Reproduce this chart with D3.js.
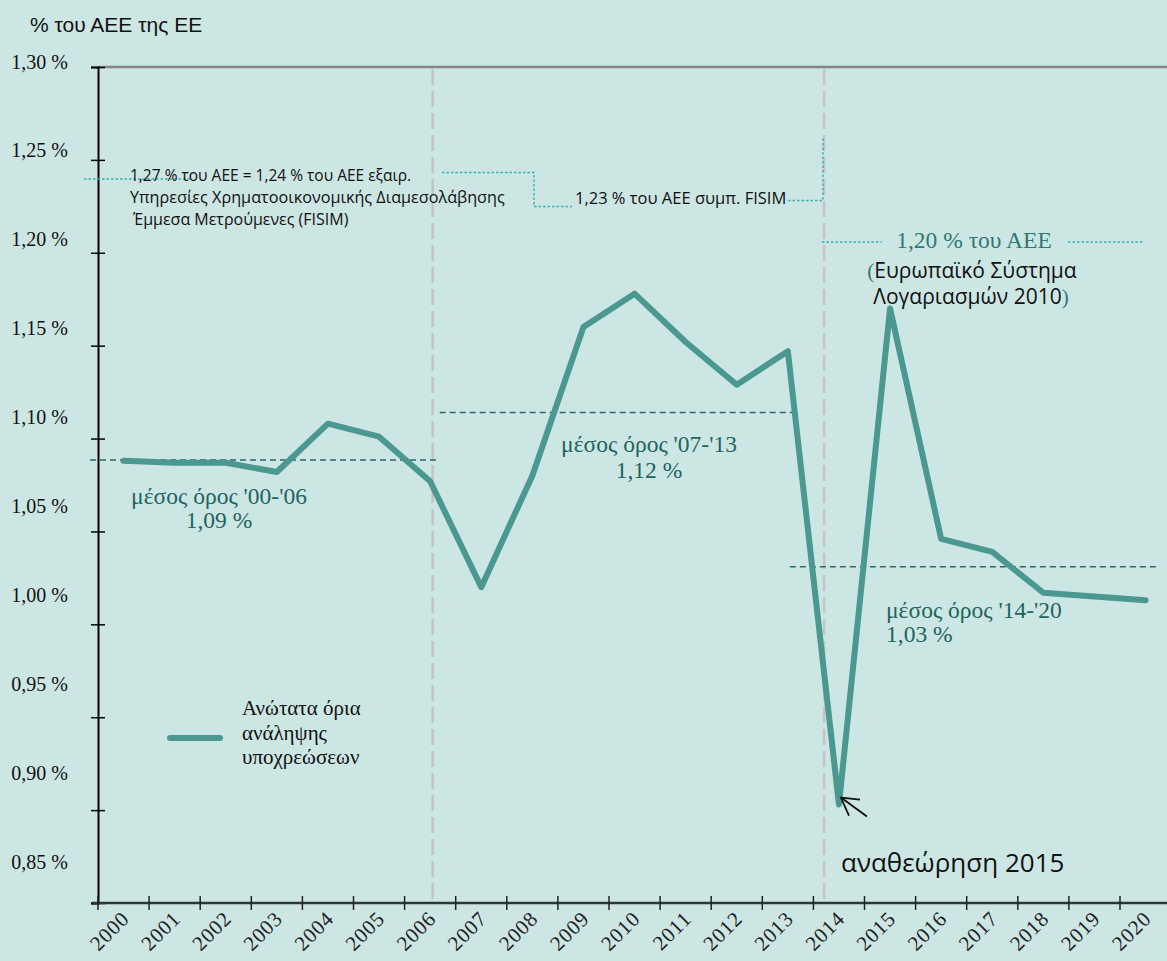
<!DOCTYPE html>
<html><head><meta charset="utf-8">
<script src="https://cdn.jsdelivr.net/npm/d3@7"></script>
<style>
html,body{margin:0;padding:0;background:#cce6e4;}
svg{display:block;}
.serif{font-family:"Liberation Serif","Times New Roman","DejaVu Serif",serif;}
.sans{font-family:"Open Sans","Noto Sans",sans-serif;}
</style></head>
<body>
<script>
const years = ["2000","2001","2002","2003","2004","2005","2006","2007","2008","2009","2010","2011","2012","2013","2014","2015","2016","2017","2018","2019","2020"];
const ceilings = [1.088,1.087,1.087,1.082,1.108,1.101,1.077,1.020,1.080,1.160,1.178,1.152,1.129,1.147,0.903,1.170,1.046,1.039,1.017,1.015,1.013];
const yTicks = [1.30,1.25,1.20,1.15,1.10,1.05,1.00,0.95,0.90,0.85];
const yTickLabels = ["1,30 %","1,25 %","1,20 %","1,15 %","1,10 %","1,05 %","1,00 %","0,95 %","0,90 %","0,85 %"];
const avgPeriods = ["'00-'06","'07-'13","'14-'20"];
const avgValues = [1.0885,1.114,1.031];
const avgLabels = ["1,09 %","1,12 %","1,03 %"];
const avgFrom = ["2000","2007","2014"];
const avgTo = ["2006","2013","2020"];

const W = 1167, H = 961;
const svg = d3.select("body").append("svg").attr("width", W).attr("height", H);
svg.append("rect").attr("width", W).attr("height", H).attr("fill", "#cce6e4");

const x = d3.scaleBand().domain(years).range([98, 98 + 21 * 51.1]).padding(0);
const bw = x.bandwidth();
const cx = d => x(d) + bw / 2;
const y = d3.scaleLinear().domain([0.85, 1.30]).range([903, 67]);
const yLab = d3.scaleLinear().domain([0.85, 1.30]).range([868, 68]);

const teal = "#4b9891";
const dark = "#22655d";
const dot = "#36b1b0";
const serifFam = '"Liberation Serif","Times New Roman","DejaVu Serif",serif';

// top frame line
svg.append("line").attr("x1", 98).attr("x2", W).attr("y1", y(1.30)).attr("y2", y(1.30))
  .attr("stroke", "#858585").attr("stroke-width", 2.5);

// vertical dashed separators
const sepX = [x("2006") + bw * 0.55, x("2014") + bw * 0.21];
svg.selectAll("line.sep").data(sepX).join("line").attr("class", "sep")
  .attr("x1", d => d).attr("x2", d => d).attr("y1", y(1.30) + 2).attr("y2", y(0.85) - 2)
  .attr("stroke", "#c4c4c4").attr("stroke-width", 2.5).attr("stroke-dasharray", "16,6");

// y axis: ticks (no labels)
const yAxis = svg.append("g").attr("transform", "translate(98,0)")
  .call(d3.axisLeft(y).tickValues(yTicks).tickSize(7).tickFormat(""));
yAxis.select(".domain").attr("stroke", "#000").attr("stroke-width", 2);
yAxis.selectAll(".tick line").attr("stroke", "#000").attr("stroke-width", 1.5).attr("x2", 7).attr("x1", -7);

// y tick labels (as placed in the original)
const yLabAxis = svg.append("g").attr("transform", "translate(68,0)")
  .call(d3.axisLeft(yLab).tickValues(yTicks).tickSize(0).tickPadding(0)
    .tickFormat((d, i) => yTickLabels[i]));
yLabAxis.attr("font-family", null).attr("font-size", null);
yLabAxis.select(".domain").remove();
yLabAxis.selectAll("text").style("font-family", serifFam).style("font-size", "20px").attr("fill", "#111")
  .attr("dy", null).attr("dominant-baseline", "alphabetic");

// x axis
const xAxis = svg.append("g").attr("transform", `translate(0,${y(0.85)})`)
  .call(d3.axisBottom(x).tickSize(7).tickFormat(d => d));
xAxis.attr("font-family", null).attr("font-size", null);
xAxis.select(".domain").attr("d", `M92,0H${W}`).attr("stroke", "#333").attr("stroke-width", 2.5);
xAxis.selectAll(".tick").attr("transform", d => `translate(${x(d)},0)`);
xAxis.selectAll(".tick line").attr("y1", -7).attr("y2", 7).attr("stroke", "#222").attr("stroke-width", 1.5);
xAxis.selectAll(".tick text")
  .style("font-family", serifFam).style("font-size", "21px").style("letter-spacing", "0.8px").attr("fill", "#222")
  .attr("text-anchor", "end").attr("dy", null).attr("y", null)
  .attr("transform", `translate(${bw / 2 + 7},17) rotate(-45)`);

// averages
svg.selectAll("line.avg").data(avgValues).join("line").attr("class", "avg")
  .attr("x1", (d, i) => i === 0 ? x(avgFrom[i]) - 8 : i === 1 ? x(avgFrom[i]) - 16 : cx("2013") + 2)
  .attr("x2", (d, i) => i === 0 ? cx(avgTo[i]) + 8 : i === 1 ? cx(avgTo[i]) + 10 : cx(avgTo[i]) + 14)
  .attr("y1", d => y(d)).attr("y2", d => y(d))
  .attr("stroke", "#2b6a62").attr("stroke-width", 1.5).attr("stroke-dasharray", "6,4");

// main line
const line = d3.line().x((d, i) => cx(years[i])).y(d => y(d));
svg.append("path").datum(ceilings).attr("d", line).attr("fill", "none")
  .attr("stroke", teal).attr("stroke-width", 6).attr("stroke-linejoin", "round").attr("stroke-linecap", "round");

// average labels
const avgPos = [
  {x: 219, y1: 504, y2: 528, anchor: "middle"},
  {x: 649, y1: 452, y2: 478, anchor: "middle"},
  {x: 886, y1: 618, y2: 642, anchor: "start"}
];
avgPos.forEach((p, i) => {
  svg.append("text").attr("class", "serif").attr("x", p.x).attr("y", p.y1).attr("text-anchor", p.anchor)
    .style("font-size", "23.5px").attr("fill", dark)
    .text("μέσος όρος " + avgPeriods[i]);
  svg.append("text").attr("class", "serif").attr("x", p.x).attr("y", p.y2).attr("text-anchor", p.anchor)
    .style("font-size", "23.5px").attr("fill", dark)
    .text(avgLabels[i]);
});

// axis title
svg.append("text").attr("x", 30).attr("y", 32).style("font-family", '"Liberation Sans",Arial,sans-serif')
  .style("font-size", "21px").attr("fill", "#111").text("% του ΑΕΕ της ΕΕ");

// FISIM annotation
const dotted = (pts) => svg.append("path").attr("d", d3.line()(pts)).attr("fill", "none")
  .attr("stroke", dot).attr("stroke-width", 1.4).attr("stroke-dasharray", "2.5,2");
dotted([[84, 179], [190, 179]]);
dotted([[442, 172.5], [534, 172.5], [534, 206.5], [572, 206.5]]);
dotted([[788, 200.5], [823, 200.5], [823, 138]]);
const ann = ["1,27 % του ΑΕΕ = 1,24 % του ΑΕΕ εξαιρ.", "Υπηρεσίες Χρηματοοικονομικής Διαμεσολάβησης", "Έμμεσα Μετρούμενες (FISIM)"];
const annX = [130, 130, 133];
const annSize = [15.5, 16.2, 16];
ann.forEach((t, i) => svg.append("text").attr("class", "sans").attr("x", annX[i]).attr("y", 181 + i * 22)
  .style("font-size", annSize[i] + "px").attr("fill", "#111").text(t));
svg.append("text").attr("class", "sans").attr("x", 575).attr("y", 204).style("font-size", "16.5px")
  .attr("fill", "#111").text("1,23 % του ΑΕΕ συμπ. FISIM");

// ESA 2010 annotation
dotted([[822, 242], [882, 242]]);
dotted([[1068, 242], [1143, 242]]);
svg.append("text").attr("class", "serif").attr("x", 974).attr("y", 248).attr("text-anchor", "middle")
  .style("font-size", "23.5px").attr("fill", "#2f7a72").text("1,20 % του ΑΕΕ");
const esa1 = svg.append("text").attr("class", "sans").attr("x", 972).attr("y", 278).attr("text-anchor", "middle")
  .style("font-size", "21px").attr("fill", "#111");
esa1.append("tspan").style("font-family", serifFam).attr("fill", "#2f7a72").text("(");
esa1.append("tspan").text("Ευρωπαϊκό Σύστημα");
const esa2 = svg.append("text").attr("class", "sans").attr("x", 971).attr("y", 304).attr("text-anchor", "middle")
  .style("font-size", "21px").attr("fill", "#111");
esa2.append("tspan").text("Λογαριασμών 2010");
esa2.append("tspan").style("font-family", serifFam).attr("fill", "#2f7a72").text(")");

// revision 2015 annotation with arrow
const tip = [cx("2014") + 2, y(ceilings[14]) - 7];
svg.append("path").attr("d", d3.line()([[tip[0] + 26, tip[1] + 19], tip])).attr("stroke", "#111").attr("stroke-width", 1.8).attr("fill", "none");
svg.append("path").attr("d", d3.line()([[tip[0] + 19, tip[1] + 2], tip, [tip[0] + 8, tip[1] + 18]]))
  .attr("stroke", "#111").attr("stroke-width", 1.8).attr("fill", "none");
svg.append("text").attr("class", "sans").attr("x", 841).attr("y", 872).style("font-size", "26px")
  .attr("fill", "#111").text("αναθεώρηση 2015");

// legend
svg.append("line").attr("x1", 170).attr("x2", 220).attr("y1", 738).attr("y2", 738)
  .attr("stroke", teal).attr("stroke-width", 6).attr("stroke-linecap", "round");
["Ανώτατα όρια", "ανάληψης", "υποχρεώσεων"].forEach((t, i) =>
  svg.append("text").attr("class", "serif").attr("x", 242).attr("y", 715 + i * 24.5)
    .style("font-size", "21px").attr("fill", "#111").text(t));
</script>
</body></html>
